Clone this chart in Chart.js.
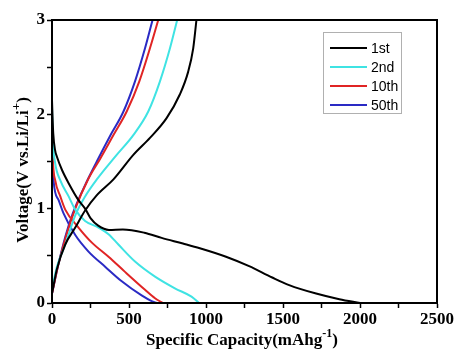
<!DOCTYPE html>
<html>
<head>
<meta charset="utf-8">
<script src="https://cdn.jsdelivr.net/npm/chart.js@4"></script>
<style>
  html, body { margin: 0; padding: 0; background: #fff; }
  #wrap { width: 455px; height: 349px; }
</style>
</head>
<body>
<div id="wrap"><canvas id="chart" width="455" height="349"></canvas></div>
<script>
// cycle labels and colours
const cycles = ['1st', '2nd', '10th', '50th'];
const colors = ['#000000', '#3fe3e3', '#e02424', '#2a2ac4'];

// discharge curves (capacity mAh/g, voltage V)
const dis1Cap = [0, 3, 8, 20, 32, 65, 108, 172, 215, 250, 300, 370, 460, 600, 712, 850, 960, 1130, 1280, 1430, 1540, 1715, 1866, 2000];
const dis1Volt = [2.15, 2.0, 1.8, 1.62, 1.55, 1.41, 1.27, 1.09, 1.0, 0.90, 0.82, 0.775, 0.78, 0.745, 0.69, 0.63, 0.58, 0.49, 0.39, 0.27, 0.19, 0.10, 0.04, 0.0];
const dis2Cap = [0, 5, 21, 54, 108, 151, 215, 302, 367, 431, 539, 669, 798, 906, 955];
const dis2Volt = [2.08, 1.75, 1.48, 1.30, 1.13, 0.99, 0.87, 0.80, 0.73, 0.62, 0.44, 0.28, 0.156, 0.067, 0.0];
const dis10Cap = [0, 5, 21, 54, 86, 172, 259, 367, 474, 604, 669, 720];
const dis10Volt = [1.95, 1.55, 1.30, 1.13, 0.99, 0.80, 0.64, 0.49, 0.33, 0.14, 0.05, 0.0];
const dis50Cap = [0, 4, 10, 43, 75, 151, 237, 345, 453, 582, 647, 680];
const dis50Volt = [1.90, 1.55, 1.30, 1.09, 0.95, 0.72, 0.545, 0.385, 0.23, 0.08, 0.02, 0.0];

// charge curves
const chg1Cap = [0, 32, 86, 151, 215, 290, 399, 528, 636, 744, 830, 884, 917, 938];
const chg1Volt = [0.10, 0.36, 0.62, 0.80, 0.98, 1.14, 1.31, 1.57, 1.75, 1.96, 2.21, 2.45, 2.70, 3.0];
const chg2Cap = [0, 32, 86, 151, 215, 291, 420, 528, 625, 701, 766, 813];
const chg2Volt = [0.15, 0.385, 0.62, 0.93, 1.13, 1.31, 1.57, 1.78, 2.03, 2.35, 2.70, 3.0];
const chg10Cap = [0, 43, 97, 151, 237, 313, 399, 485, 567, 636, 690];
const chg10Volt = [0.10, 0.42, 0.74, 1.0, 1.32, 1.53, 1.78, 2.03, 2.35, 2.70, 3.0];
const chg50Cap = [0, 40, 86, 135, 215, 291, 377, 464, 539, 604, 653];
const chg50Volt = [0.10, 0.40, 0.70, 0.95, 1.25, 1.50, 1.77, 2.03, 2.35, 2.70, 3.0];

// axis ticks
const xTicks = [0, 500, 1000, 1500, 2000, 2500];
const yTicks = [0, 1, 2, 3];

const toPts = (xs, ys) => xs.map((x, i) => ({ x: x, y: ys[i] }));

const curves = [
    [dis1Cap, dis1Volt, chg1Cap, chg1Volt],
    [dis2Cap, dis2Volt, chg2Cap, chg2Volt],
    [dis10Cap, dis10Volt, chg10Cap, chg10Volt],
    [dis50Cap, dis50Volt, chg50Cap, chg50Volt]
];

const datasets = [];
curves.forEach((c, i) => {
    datasets.push({ label: cycles[i], data: toPts(c[0], c[1]), borderColor: colors[i] });
    datasets.push({ label: cycles[i] + ' charge', data: toPts(c[2], c[3]), borderColor: colors[i] });
});
datasets.forEach(d => {
    d.showLine = true;
    d.pointRadius = 0;
    d.borderWidth = 2;
    d.fill = false;
    d.cubicInterpolationMode = 'monotone';
});

const serif = '"Liberation Serif", "Times New Roman", serif';

// frame, titles and the boxed legend
const decor = {
    id: 'decor',
    afterDraw(chart) {
        const ctx = chart.ctx;
        const a = chart.chartArea;
        ctx.save();
        ctx.strokeStyle = '#000';
        ctx.lineWidth = 2;
        ctx.strokeRect(a.left, a.top, a.right - a.left, a.bottom - a.top);

        // x title
        ctx.fillStyle = '#000';
        ctx.textBaseline = 'alphabetic';
        ctx.font = 'bold 17px ' + serif;
        const xt = 'Specific Capacity(mAhg';
        const w1 = ctx.measureText(xt).width;
        ctx.font = 'bold 12px ' + serif;
        const sup = '-1';
        const w2 = ctx.measureText(sup).width;
        ctx.font = 'bold 17px ' + serif;
        const w3 = ctx.measureText(')').width;
        let x0 = 242 - (w1 + w2 + w3) / 2;
        ctx.textAlign = 'left';
        ctx.fillText(xt, x0, 345);
        ctx.font = 'bold 12px ' + serif;
        ctx.fillText(sup, x0 + w1, 337);
        ctx.font = 'bold 17px ' + serif;
        ctx.fillText(')', x0 + w1 + w2, 345);

        // y title
        ctx.save();
        ctx.translate(28, 170);
        ctx.rotate(-Math.PI / 2);
        ctx.font = 'bold 17px ' + serif;
        const yt = 'Voltage(V vs.Li/Li';
        const v1 = ctx.measureText(yt).width;
        ctx.font = 'bold 13px ' + serif;
        const v2 = ctx.measureText('+').width;
        ctx.font = 'bold 17px ' + serif;
        const v3 = ctx.measureText(')').width;
        let y0 = -(v1 + v2 + v3) / 2;
        ctx.fillText(yt, y0, 0);
        ctx.font = 'bold 13px ' + serif;
        ctx.fillText('+', y0 + v1, -8);
        ctx.font = 'bold 17px ' + serif;
        ctx.fillText(')', y0 + v1 + v2, 0);
        ctx.restore();

        // legend
        ctx.strokeStyle = '#b0b0b0';
        ctx.lineWidth = 1;
        ctx.strokeRect(323.5, 32.5, 78, 81);
        ctx.font = '14px "Liberation Sans", Arial, sans-serif';
        ctx.textBaseline = 'middle';
        cycles.forEach((lab, i) => {
            const yy = 48 + i * 19;
            ctx.strokeStyle = colors[i];
            ctx.lineWidth = 2;
            ctx.beginPath();
            ctx.moveTo(330, yy);
            ctx.lineTo(367, yy);
            ctx.stroke();
            ctx.fillStyle = '#000';
            ctx.fillText(lab, 371, yy + 1);
        });
        ctx.restore();
    }
};

new Chart(document.getElementById('chart'), {
    type: 'scatter',
    data: { datasets: datasets },
    options: {
        responsive: false,
        animation: false,
        layout: { padding: { top: 20, right: 17, left: 0, bottom: 0 } },
        plugins: {
            legend: { display: false },
            tooltip: { enabled: false }
        },
        scales: {
            x: {
                type: 'linear',
                min: 0,
                max: 2500,
                afterFit: (s) => { s.height = 46; },
                border: { display: true, color: '#000', width: 2 },
                grid: { drawOnChartArea: false, drawTicks: true, tickLength: 5, color: '#000', tickWidth: 1.5 },
                ticks: {
                    stepSize: 250,
                    padding: 1,
                    color: '#000',
                    maxRotation: 0,
                    autoSkip: false,
                    font: { family: serif, size: 17, weight: 'bold' },
                    callback: (v) => xTicks.includes(v) ? String(v) : ''
                }
            },
            y: {
                type: 'linear',
                min: 0,
                max: 3,
                afterFit: (s) => { s.width = 52; },
                border: { display: true, color: '#000', width: 2 },
                grid: { drawOnChartArea: false, drawTicks: true, tickLength: 5, color: '#000', tickWidth: 1.5 },
                ticks: {
                    stepSize: 0.5,
                    padding: 2,
                    color: '#000',
                    autoSkip: false,
                    font: { family: serif, size: 17, weight: 'bold' },
                    callback: (v) => yTicks.includes(v) ? String(v) : ''
                }
            }
        }
    },
    plugins: [decor]
});
</script>
</body>
</html>
